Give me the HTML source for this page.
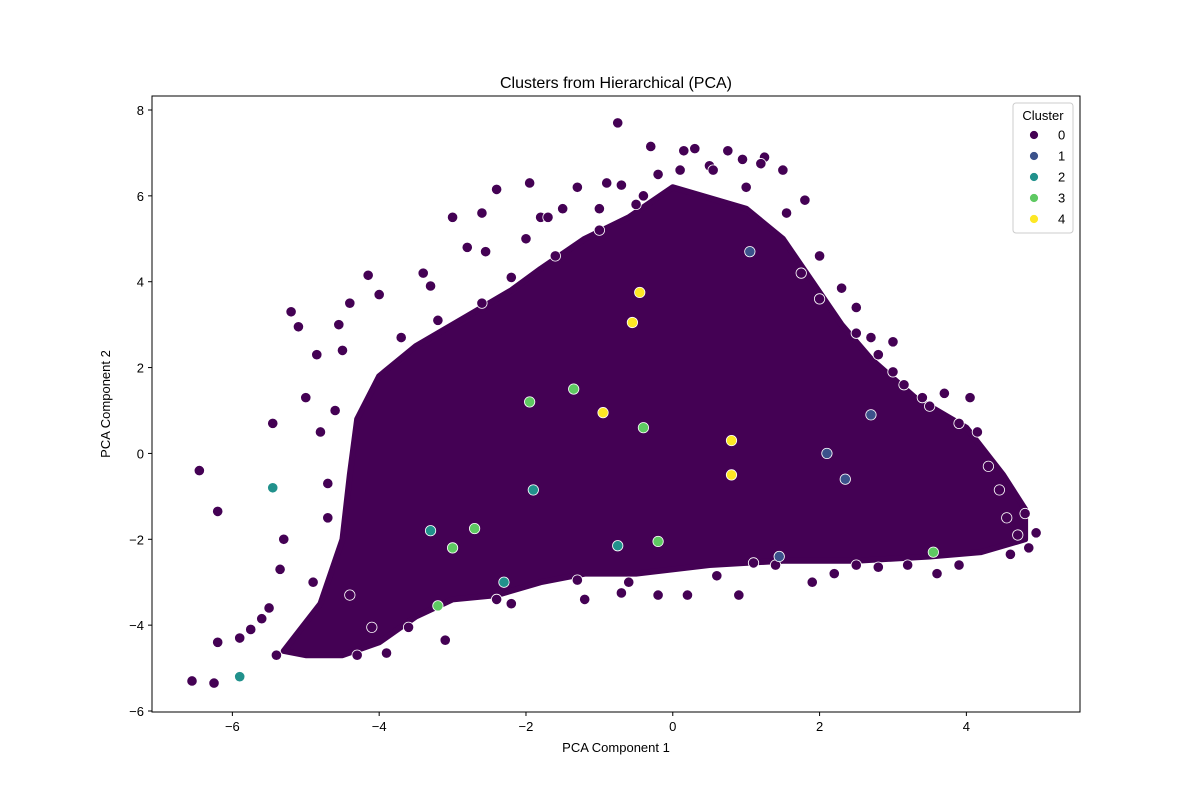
<!DOCTYPE html>
<html><head><meta charset="utf-8">
<style>
html,body{margin:0;padding:0;background:#fff;}
svg{display:block;font-family:"Liberation Sans","DejaVu Sans",sans-serif;}
</style></head>
<body>
<svg id="chart" width="1200" height="800">
  <text x="616" y="88" text-anchor="middle" font-size="16">Clusters from Hierarchical (PCA)</text>
  <g id="plot"></g>
  <rect x="152" y="96" width="928" height="616" fill="none" stroke="#000" stroke-width="1"/>
  <g id="xt"></g>
  <g id="yt"></g>
  <text x="616" y="752" text-anchor="middle" font-size="13">PCA Component 1</text>
  <text transform="translate(110,404) rotate(-90)" text-anchor="middle" font-size="13">PCA Component 2</text>
  <g id="legend"></g>
</svg>
<script>
const xTicks=[-6,-4,-2,0,2,4];
const yTicks=[-6,-4,-2,0,2,4,6,8];
const clusterLabels=["0","1","2","3","4"];
const clusterColors=["#440154","#3b528b","#21918c","#5ec962","#fde725"];
// dense core outline of cluster 0 (data coords)
const coreX=[-5.3,-4.8,-4.5,-4.4,-4.3,-4.0,-3.5,-2.8,-2.2,-1.8,-1.2,-0.6,0.0,0.6,1.0,1.5,1.9,2.3,2.7,3.3,4.0,4.5,4.8,4.8,4.2,3.5,2.5,1.5,0.5,-0.5,-1.2,-1.8,-2.4,-3.0,-3.5,-4.0,-4.5,-5.0];
const coreY=[-4.6,-3.5,-2.0,-0.5,0.8,1.8,2.5,3.2,3.8,4.3,5.0,5.5,6.2,5.9,5.7,5.0,4.0,3.0,2.2,1.3,0.6,-0.5,-1.3,-2.0,-2.3,-2.4,-2.5,-2.5,-2.6,-2.8,-2.8,-3.0,-3.3,-3.4,-3.8,-4.4,-4.7,-4.7];
const c0x=[-0.75,-0.3,0.3,0.15,0.75,1.25,0.5,1.5,-0.2,-6.55,-6.25,-6.2,-6.45,-6.2,-5.9,-5.75,-5.6,-5.5,-5.45,-5.35,-5.2,-5.1,-5.0,-4.85,-4.8,-4.7,-4.55,-4.5,-4.4,-4.15,-4.0,-3.4,-3.3,-3.0,-2.8,-2.6,-2.55,-2.4,-2.0,-1.95,-1.8,-1.7,-1.5,-1.3,-1.0,-0.9,-0.7,-0.5,-0.4,-0.3,0.1,0.55,0.95,1.0,1.2,1.55,1.75,1.8,2.0,2.3,2.5,2.7,2.8,3.0,3.15,3.4,3.7,3.9,4.05,4.15,4.3,4.45,4.55,4.7,4.8,4.95,4.85,4.6,3.9,3.6,3.2,2.8,2.2,1.9,1.4,1.1,0.6,0.2,-0.2,-0.7,-1.2,-2.4,-3.1,-3.9,-4.3,-5.4,-5.3,-4.1,-3.6,-2.2,-1.3,-0.6,0.9,2.5,-3.7,-3.2,-2.6,-2.2,-1.6,-1.0,2.0,2.5,3.0,3.5,-4.6,-4.7,-4.9,-4.4];
const c0y=[7.7,7.15,7.1,7.05,7.05,6.9,6.7,6.6,6.5,-5.3,-5.35,-4.4,-0.4,-1.35,-4.3,-4.1,-3.85,-3.6,0.7,-2.7,3.3,2.95,1.3,2.3,0.5,-0.7,3.0,2.4,3.5,4.15,3.7,4.2,3.9,5.5,4.8,5.6,4.7,6.15,5.0,6.3,5.5,5.5,5.7,6.2,5.7,6.3,6.25,5.8,6.0,7.15,6.6,6.6,6.85,6.2,6.75,5.6,4.2,5.9,4.6,3.85,3.4,2.7,2.3,2.6,1.6,1.3,1.4,0.7,1.3,0.5,-0.3,-0.85,-1.5,-1.9,-1.4,-1.85,-2.2,-2.35,-2.6,-2.8,-2.6,-2.65,-2.8,-3.0,-2.6,-2.55,-2.85,-3.3,-3.3,-3.25,-3.4,-3.4,-4.35,-4.65,-4.7,-4.7,-2.0,-4.05,-4.05,-3.5,-2.95,-3.0,-3.3,-2.6,2.7,3.1,3.5,4.1,4.6,5.2,3.6,2.8,1.9,1.1,1.0,-1.5,-3.0,-3.3];
const c1x=[1.05,2.7,2.1,2.35,1.45];
const c1y=[4.7,0.9,0.0,-0.6,-2.4];
const c2x=[-5.45,-5.9,-2.3,-1.9,-0.75,-3.3];
const c2y=[-0.8,-5.2,-3.0,-0.85,-2.15,-1.8];
const c3x=[-1.95,-1.35,-3.0,-2.7,-3.2,-0.2,3.55,-0.4];
const c3y=[1.2,1.5,-2.2,-1.75,-3.55,-2.05,-2.3,0.6];
const c4x=[-0.45,-0.55,-0.95,0.8,0.8];
const c4y=[3.75,3.05,0.95,0.3,-0.5];

const X0=152,X1=1080,Y0=96,Y1=712;
const xmin=-7.095,xmax=5.548,ymin=-6.023,ymax=8.326;
const sx=v=>X0+(v-xmin)/(xmax-xmin)*(X1-X0);
const sy=v=>Y1-(v-ymin)/(ymax-ymin)*(Y1-Y0);
const NS="http://www.w3.org/2000/svg";
function mk(tag,parent,attrs){const e=document.createElementNS(NS,tag);for(const k in attrs)e.setAttribute(k,attrs[k]);parent.appendChild(e);return e;}
const plot=document.getElementById('plot');
const core=mk('polygon',plot,{points:coreX.map((x,i)=>sx(x)+','+sy(coreY[i])).join(' '),fill:'#440154',stroke:'#440154','stroke-width':6,'stroke-linejoin':'round'});


function drawSeries(xs,ys,ci){
  xs.forEach((x,i)=>{
    const c=mk('circle',plot,{cx:sx(x),cy:sy(ys[i]),r:5.2,fill:clusterColors[ci],stroke:'#fff','stroke-width':0.8});
    
    
  });
}
drawSeries(c0x,c0y,0);drawSeries(c1x,c1y,1);drawSeries(c2x,c2y,2);drawSeries(c3x,c3y,3);drawSeries(c4x,c4y,4);
const xt=document.getElementById('xt');
xTicks.forEach(t=>{
  mk('line',xt,{x1:sx(t),x2:sx(t),y1:Y1,y2:Y1+4,stroke:'#000'});
  const tx=mk('text',xt,{x:sx(t),y:Y1+19,'text-anchor':'middle','font-size':13});
  tx.textContent=(t<0?'\u2212'+(-t):t);
  
  
});
const yt=document.getElementById('yt');
yTicks.forEach(t=>{
  mk('line',yt,{x1:X0-4,x2:X0,y1:sy(t),y2:sy(t),stroke:'#000'});
  const tx=mk('text',yt,{x:X0-8,y:sy(t)+5,'text-anchor':'end','font-size':13});
  tx.textContent=(t<0?'\u2212'+(-t):t);
  
  
});
const lg=document.getElementById('legend');
mk('rect',lg,{x:1013,y:103,width:60,height:130,rx:3,fill:'#fff','fill-opacity':0.85,stroke:'#ccc'});
const lt=mk('text',lg,{x:1043,y:120,'text-anchor':'middle','font-size':13});
lt.textContent='Cluster';


clusterLabels.forEach((l,i)=>{
  const y=135+i*21;
  const g=mk('g',lg,{});
  
  
  mk('circle',g,{cx:1034,cy:y,r:4.5,fill:clusterColors[i],stroke:'#fff','stroke-width':0.8});
  const t=mk('text',g,{x:1058,y:y+4.5,'font-size':13});
  t.textContent=l;
});
</script>
</body></html>
